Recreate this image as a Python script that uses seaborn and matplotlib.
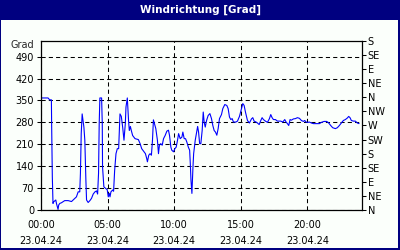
import numpy as np
import pandas as pd
import matplotlib
matplotlib.use("Agg")
import matplotlib.pyplot as plt
from matplotlib.patches import Rectangle
import seaborn as sns

# ---- data (hours since 00:00 on 23.04.24, wind direction in degrees) ----
hours = [0.00, 0.53, 0.65, 0.78, 0.80, 0.85, 0.90, 0.95, 1.11, 1.16, 1.28, 1.33, 1.41, 1.53,
         1.78, 2.04, 2.29, 2.41, 2.66, 2.79, 2.91, 2.96, 3.02, 3.09, 3.14, 3.22, 3.29, 3.37,
         3.42, 3.54, 3.67, 3.79, 3.92, 4.05, 4.17, 4.25, 4.32, 4.37, 4.42, 4.55, 4.60, 4.62,
         4.72, 4.85, 4.97, 5.05, 5.13, 5.18, 5.25, 5.38, 5.45, 5.53, 5.63, 5.73, 5.83, 5.93,
         6.03, 6.13, 6.23, 6.33, 6.38, 6.48, 6.53, 6.58, 6.63, 6.71, 6.78, 6.88, 7.06, 7.31,
         7.44, 7.56, 7.74, 7.84, 7.94, 7.99, 8.09, 8.19, 8.29, 8.37, 8.44, 8.52, 8.62, 8.74,
         8.82, 8.89, 8.99, 9.10, 9.20, 9.32, 9.45, 9.57, 9.65, 9.75, 9.82, 9.95, 10.05, 10.15,
         10.25, 10.33, 10.45, 10.58, 10.65, 10.75, 10.85, 10.95, 11.06, 11.16, 11.21, 11.26,
         11.33, 11.41, 11.46, 11.58, 11.71, 11.76, 11.83, 11.91, 12.00, 12.10, 12.18, 12.25,
         12.33, 12.43, 12.55, 12.68, 12.80, 12.90, 13.00, 13.10, 13.20, 13.30, 13.40, 13.55,
         13.65, 13.80, 13.95, 14.05, 14.15, 14.25, 14.35, 14.45, 14.63, 14.75, 14.90, 15.05,
         15.15, 15.25, 15.35, 15.50, 15.65, 15.80, 15.90, 16.00, 16.15, 16.25, 16.38, 16.50,
         16.60, 16.70, 16.85, 17.00, 17.15, 17.25, 17.35, 17.45, 17.60, 17.75, 17.90, 18.00,
         18.15, 18.30, 18.40, 18.50, 18.60, 18.70, 18.80, 18.95, 19.10, 19.25, 19.40, 19.55,
         19.70, 19.80, 19.90, 20.00, 20.15, 20.30, 20.45, 20.65, 20.90, 21.05, 21.25, 21.45,
         21.60, 21.75, 21.90, 22.10, 22.25, 22.40, 22.55, 22.70, 22.85, 23.00, 23.10, 23.20,
         23.30, 23.45, 23.60, 23.75, 23.88]
direction = [358, 358, 352, 352, 270, 106, 21, 26, 32, 21, 2, 16, 21, 23,
             30, 30, 27, 32, 42, 58, 58, 117, 244, 307, 291, 265, 223, 95,
             32, 24, 30, 37, 51, 58, 61, 51, 117, 276, 358, 358, 276, 138,
             74, 69, 65, 42, 53, 42, 58, 64, 60, 127, 180, 196, 196, 307,
             299, 265, 223, 276, 329, 358, 318, 281, 254, 267, 254, 238, 228, 225,
             212, 196, 186, 180, 164, 154, 175, 180, 175, 223, 288, 276, 260, 223,
             180, 207, 212, 207, 228, 238, 252, 255, 238, 201, 191, 186, 196, 201,
             223, 244, 228, 233, 249, 228, 228, 217, 201, 191, 148, 95,
             53, 138, 180, 223, 254, 267, 249, 212, 212, 254, 313, 281,
             265, 286, 302, 308, 292, 270, 254, 249, 239, 260, 292, 305,
             324, 337, 334, 324, 297, 289, 292, 281, 281, 284, 299, 324,
             340, 334, 313, 286, 278, 291, 295, 284, 281, 278, 273, 286,
             295, 289, 284, 280, 292, 305, 295, 289, 289, 284, 284, 284,
             281, 289, 281, 276, 270, 289, 287, 291, 292, 295, 293, 286,
             283, 286, 281, 280, 281, 278, 276, 276, 276, 280, 283, 283,
             278, 270, 263, 260, 263, 270, 278, 286, 289, 294, 299, 295,
             286, 284, 284, 278, 276]

x_tick_hours = [0, 5, 10, 15, 20]
x_tick_labels = ["00:00\n23.04.24", "05:00\n23.04.24", "10:00\n23.04.24",
                 "15:00\n23.04.24", "20:00\n23.04.24"]
y_ticks = [0, 70, 140, 210, 280, 350, 420, 490]
compass_ticks = [0, 45, 90, 135, 180, 225, 270, 315, 360, 405, 450, 495, 540]
compass_labels = ["N", "NE", "E", "SE", "S", "SW", "W", "NW", "N", "NE", "E", "SE", "S"]
title = "Windrichtung [Grad]"
unit = "Grad"

df = pd.DataFrame({"h": hours, "deg": direction})

sns.set_style("white")
plt.rcParams["font.family"] = ["DejaVu Sans"]

W, H = 400, 250
navy = "#000080"
bg = "#FBFFFB"
fig = plt.figure(figsize=(4, 2.5), dpi=100, facecolor=bg)

# title bar and border
fig.patches.append(Rectangle((0, 1 - 20 / H), 1, 20 / H, transform=fig.transFigure,
                             facecolor=navy, edgecolor="none", zorder=0))
fig.patches.append(Rectangle((0, 0), 1 / W, 1, transform=fig.transFigure,
                             facecolor=navy, edgecolor="none", zorder=0))
fig.patches.append(Rectangle((1 - 2 / W, 0), 2 / W, 1, transform=fig.transFigure,
                             facecolor=navy, edgecolor="none", zorder=0))
fig.patches.append(Rectangle((0, 0), 1, 2 / H, transform=fig.transFigure,
                             facecolor=navy, edgecolor="none", zorder=0))
fig.text(0.5, 1 - 10 / H, title, color="white", fontsize=7.5, fontweight="bold",
         ha="center", va="center")

left, right, top, bottom = 41, 362, 41, 210
ax = fig.add_axes([left / W, 1 - bottom / H, (right - left) / W, (bottom - top) / H])
ax.set_facecolor(bg)

sns.lineplot(data=df, x="h", y="deg", ax=ax, color="#0000FF", linewidth=0.8)

ax.set_xlim(0, 24.1)
ax.set_ylim(0, 540)
ax.set_xlabel("")
ax.set_ylabel("")

ax.set_yticks(y_ticks)
ax.set_yticklabels([str(v) for v in y_ticks], fontsize=7)
ax.set_xticks(x_tick_hours)
ax.set_xticklabels(x_tick_labels, fontsize=7, linespacing=1.75)
ax.set_xticks(range(0, 25), minor=True)

for s in ax.spines.values():
    s.set_color("black")
    s.set_linewidth(0.9)

ax.grid(True, which="major", color="black", linestyle=(0, (4, 3)), linewidth=0.75)
ax.tick_params(axis="y", which="major", direction="out", length=3, width=0.75,
               pad=2, colors="black")
ax.tick_params(axis="x", which="major", direction="inout", length=6, width=0.75,
               pad=4, colors="black")
ax.tick_params(axis="x", which="minor", direction="in", length=3, width=0.75,
               colors="black")

ax2 = ax.twinx()
ax2.set_ylim(0, 540)
ax2.set_yticks(compass_ticks)
ax2.set_yticklabels(compass_labels, fontsize=7)
ax2.tick_params(axis="y", direction="out", length=3, width=0.75, pad=1, colors="black")
for s in ax2.spines.values():
    s.set_visible(False)

ax.text(-0.02, 527, unit, transform=ax.get_yaxis_transform(), ha="right",
        va="center", fontsize=7)

fig.savefig("out.png", dpi=100, facecolor=bg)
